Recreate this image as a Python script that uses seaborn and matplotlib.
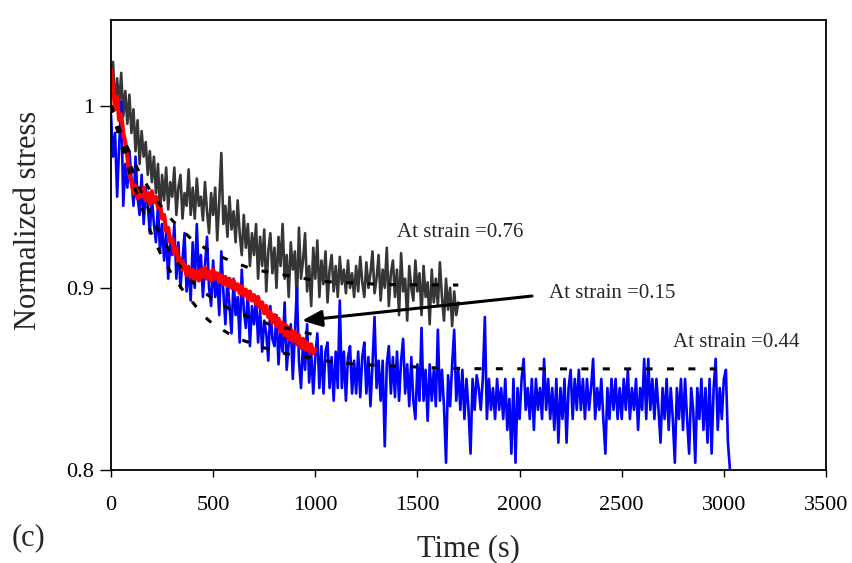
import numpy as np
import pandas as pd
import matplotlib
matplotlib.use("Agg")
import matplotlib.pyplot as plt
import seaborn as sns

# ---------------- data ----------------
# strain 0.44 (blue), sampled every 10 s from 0 to 3030 s
blue_t = np.arange(0, 3031, 10)
blue_v = [
    0.995, 0.972, 0.985, 0.950, 0.978, 1.002, 0.945, 0.968, 0.955, 0.975,
    0.960, 0.945, 0.972, 0.950, 0.940, 0.962, 0.935, 0.955, 0.945, 0.930,
    0.950, 0.935, 0.925, 0.945, 0.920, 0.935, 0.915, 0.930, 0.905, 0.925,
    0.918, 0.935, 0.905, 0.925, 0.900, 0.915, 0.930, 0.898, 0.912, 0.893,
    0.925, 0.900, 0.935, 0.905, 0.918, 0.895, 0.912, 0.928, 0.900, 0.890,
    0.915, 0.895, 0.905, 0.885, 0.920, 0.898, 0.880, 0.905, 0.890, 0.875,
    0.905, 0.885, 0.895, 0.870, 0.910, 0.888, 0.878, 0.898, 0.868, 0.890,
    0.880, 0.895, 0.870, 0.888, 0.865, 0.882, 0.875, 0.860, 0.890, 0.872,
    0.868, 0.885, 0.858, 0.878, 0.865, 0.892, 0.855, 0.870, 0.880, 0.850,
    0.875, 0.900, 0.860, 0.845, 0.870, 0.855, 0.880, 0.848, 0.865, 0.842,
    0.862, 0.875, 0.845, 0.868, 0.842, 0.865, 0.870, 0.845, 0.862, 0.838,
    0.865, 0.845, 0.893, 0.845, 0.865, 0.838, 0.862, 0.868, 0.842, 0.860,
    0.842, 0.865, 0.840, 0.862, 0.870, 0.842, 0.862, 0.835, 0.858, 0.884,
    0.845, 0.860, 0.838, 0.860, 0.813, 0.858, 0.868, 0.842, 0.862, 0.840,
    0.865, 0.838, 0.860, 0.872, 0.842, 0.858, 0.835, 0.862, 0.838, 0.828,
    0.858, 0.838, 0.878, 0.838, 0.855, 0.827, 0.858, 0.838, 0.855, 0.835,
    0.877, 0.838, 0.855, 0.835, 0.804, 0.852, 0.835, 0.858, 0.877, 0.838,
    0.855, 0.833, 0.855, 0.828, 0.850, 0.833, 0.809, 0.850, 0.833, 0.852,
    0.845, 0.833, 0.850, 0.884, 0.828, 0.850, 0.833, 0.845, 0.828, 0.850,
    0.833, 0.845, 0.828, 0.850, 0.822, 0.839, 0.809, 0.850, 0.804, 0.845,
    0.828, 0.850, 0.861, 0.833, 0.845, 0.828, 0.850, 0.822, 0.850, 0.833,
    0.845, 0.828, 0.861, 0.833, 0.850, 0.828, 0.845, 0.822, 0.850, 0.815,
    0.845, 0.828, 0.850, 0.815, 0.845, 0.855, 0.828, 0.850, 0.833, 0.855,
    0.833, 0.850, 0.828, 0.850, 0.833, 0.845, 0.861, 0.828, 0.845, 0.833,
    0.850, 0.828, 0.809, 0.845, 0.828, 0.850, 0.833, 0.850, 0.828, 0.845,
    0.828, 0.850, 0.833, 0.855, 0.828, 0.845, 0.833, 0.850, 0.822, 0.845,
    0.833, 0.861, 0.828, 0.861, 0.833, 0.850, 0.828, 0.850, 0.833, 0.815,
    0.845, 0.828, 0.850, 0.822, 0.845, 0.828, 0.804, 0.845, 0.828, 0.850,
    0.822, 0.850, 0.828, 0.809, 0.845, 0.833, 0.804, 0.845, 0.828, 0.850,
    0.822, 0.845, 0.815, 0.850, 0.809, 0.845, 0.861, 0.822, 0.845, 0.828,
    0.850, 0.855, 0.815, 0.800,
]

# strain 0.76 (dark grey), every 10 s from 0 to 1700 s
grey_t = np.arange(0, 1701, 10)
grey_v = [
    1.005, 1.024, 0.998, 1.015, 1.000, 1.018, 0.994, 1.008, 0.990, 1.006,
    0.985, 0.998, 0.975, 0.992, 0.968, 0.986, 0.972, 0.980, 0.962, 0.975,
    0.958, 0.972, 0.952, 0.968, 0.940, 0.962, 0.948, 0.966, 0.943, 0.958,
    0.950, 0.966, 0.940, 0.955, 0.962, 0.938, 0.952, 0.945, 0.965, 0.940,
    0.955, 0.938, 0.960, 0.945, 0.950, 0.937, 0.958, 0.942, 0.930, 0.952,
    0.940, 0.955, 0.926, 0.948, 0.974, 0.935, 0.945, 0.928, 0.950, 0.932,
    0.942, 0.925, 0.948, 0.930, 0.918, 0.940, 0.922, 0.935, 0.912, 0.930,
    0.918, 0.935, 0.905, 0.928, 0.912, 0.932, 0.898, 0.920, 0.930, 0.908,
    0.922, 0.900, 0.928, 0.912, 0.935, 0.905, 0.918, 0.895, 0.925, 0.910,
    0.920, 0.892, 0.933, 0.905, 0.915, 0.930, 0.898, 0.912, 0.890, 0.922,
    0.905, 0.926, 0.895, 0.915, 0.902, 0.920, 0.892, 0.910, 0.918, 0.898,
    0.912, 0.895, 0.917, 0.902, 0.910, 0.897, 0.915, 0.900, 0.908, 0.895,
    0.912, 0.898, 0.917, 0.903, 0.895, 0.914, 0.900, 0.908, 0.920, 0.897,
    0.905, 0.918, 0.893, 0.910, 0.900, 0.922, 0.890, 0.908, 0.915, 0.895,
    0.910, 0.885, 0.919, 0.898, 0.905, 0.882, 0.912, 0.900, 0.893, 0.915,
    0.898, 0.908, 0.885, 0.912, 0.895, 0.903, 0.880, 0.910, 0.892, 0.905,
    0.890, 0.914, 0.895, 0.882, 0.905, 0.888, 0.900, 0.879, 0.898, 0.885,
    0.892,
]

# strain 0.15 (red), every 10 s from 0 to 1000 s
red_t = np.arange(0, 1001, 10)
red_v = [
    1.020, 1.010, 0.998, 1.005, 0.992, 0.995, 0.985, 0.980, 0.972, 0.962,
    0.958, 0.952, 0.956, 0.949, 0.954, 0.950, 0.955, 0.948, 0.952, 0.946,
    0.953, 0.947, 0.950, 0.944, 0.946, 0.938, 0.940, 0.931, 0.933, 0.925,
    0.927, 0.919, 0.922, 0.914, 0.916, 0.910, 0.913, 0.907, 0.911, 0.906,
    0.910, 0.905, 0.909, 0.904, 0.910, 0.906, 0.911, 0.905, 0.909, 0.904,
    0.910, 0.905, 0.908, 0.903, 0.907, 0.902, 0.906, 0.901, 0.905, 0.900,
    0.904, 0.899, 0.902, 0.897, 0.901, 0.896, 0.899, 0.894, 0.898, 0.893,
    0.896, 0.891, 0.895, 0.889, 0.892, 0.886, 0.890, 0.884, 0.887, 0.881,
    0.885, 0.879, 0.883, 0.876, 0.881, 0.874, 0.879, 0.872, 0.877, 0.871,
    0.876, 0.869, 0.874, 0.867, 0.872, 0.866, 0.870, 0.865, 0.869, 0.864,
    0.866,
]

# fitted curves (black dashed)
fit_grey_t = [0, 50, 100, 150, 200, 250, 300, 400, 500, 600, 700, 800, 900,
              1000, 1100, 1200, 1300, 1400, 1500, 1600, 1700]
fit_grey_v = [1.0, 0.985, 0.972, 0.961, 0.952, 0.944, 0.937, 0.926, 0.919,
              0.914, 0.910, 0.908, 0.906, 0.904, 0.903, 0.9027, 0.902, 0.9017,
              0.9016, 0.9016, 0.9015]
fit_red_t = [0, 50, 100, 150, 200, 250, 300, 350, 400, 450, 500, 600, 700,
             800, 900, 1000]
fit_red_v = [1.0, 0.982, 0.966, 0.952, 0.939, 0.927, 0.918, 0.910, 0.903,
             0.898, 0.894, 0.887, 0.883, 0.879, 0.877, 0.874]
fit_blue_t = [0, 50, 100, 150, 200, 250, 300, 350, 400, 450, 500, 575, 650,
              750, 850, 950, 1050, 1200, 1400, 1600, 1800, 2200, 2600, 3030]
fit_blue_v = [1.0, 0.978, 0.960, 0.944, 0.929, 0.917, 0.907, 0.899, 0.892,
              0.885, 0.880, 0.875, 0.871, 0.867, 0.864, 0.862, 0.860, 0.858,
              0.857, 0.856, 0.8556, 0.8555, 0.8555, 0.8555]

labels = ["At strain =0.76", "At strain =0.15", "At strain =0.44"]

# ---------------- figure ----------------
sns.set_style("ticks")
plt.rcParams["font.family"] = ["Liberation Serif", "DejaVu Serif"]

fig = plt.figure(figsize=(8.53, 5.63), dpi=100)
ax = fig.add_axes([111 / 853, 93 / 563, 715 / 853, 450 / 563])

sns.lineplot(x=grey_t, y=grey_v, ax=ax, color="#363636", linewidth=1.9,
             estimator=None, sort=False)
sns.lineplot(x=blue_t, y=blue_v, ax=ax, color="#0000ff", linewidth=1.9,
             estimator=None, sort=False)
sns.lineplot(x=red_t, y=red_v, ax=ax, color="#ff0000", linewidth=3.0,
             estimator=None, sort=False)

dash = (0, (2.3, 4.7))
for ft, fv in [(fit_grey_t, fit_grey_v), (fit_red_t, fit_red_v),
               (fit_blue_t, fit_blue_v)]:
    sns.lineplot(x=ft, y=fv, ax=ax, color="black", linewidth=2.2,
                 linestyle=dash, estimator=None, sort=False)

ax.annotate("", xy=(935, 0.882), xytext=(2061, 0.8955),
            arrowprops=dict(arrowstyle="-|>,head_length=0.6,head_width=0.25",
                            color="black", lw=2.2, mutation_scale=20,
                            shrinkA=0, shrinkB=0))

ax.text(1400, 0.928, labels[0], fontsize=15, ha="left", va="baseline")
ax.text(2144, 0.8945, labels[1], fontsize=15, ha="left", va="baseline")
ax.text(2751, 0.8676, labels[2], fontsize=15, ha="left", va="baseline")

ax.set_xlim(0, 3500)
ax.set_ylim(0.8, 1.047)
ax.set_xticks(range(0, 3501, 500))
ax.set_yticks([0.8, 0.9, 1.0])
ax.set_yticklabels(["0.8", "0.9", "1"])

for s in ax.spines.values():
    s.set_visible(True)
    s.set_color("black")
    s.set_linewidth(1.3)

ax.tick_params(axis="x", direction="out", length=5, width=1, pad=14,
               labelsize=16, colors="black")
ax.tick_params(axis="y", direction="out", length=8, width=1, pad=4,
               labelsize=16, colors="black")

ax.set_xlabel("Time (s)", fontsize=22)
ax.set_ylabel("Normalized stress", fontsize=22)
ax.xaxis.set_label_coords(0.5, (470 - 549) / 450)
ax.xaxis.label.set_va("center")
ax.yaxis.set_label_coords((29 - 111) / 715, (470 - 220) / 450)
ax.yaxis.label.set_va("center")
ax.yaxis.label.set_ha("center")

fig.text(12 / 853, (563 - 538) / 563, "(c)", fontsize=22, ha="left",
         va="center")

fig.savefig("out.png", dpi=100)
